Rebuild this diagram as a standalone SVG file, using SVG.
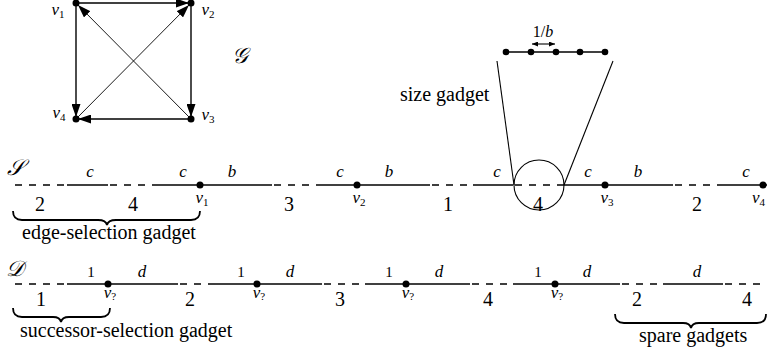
<svg xmlns="http://www.w3.org/2000/svg" width="767" height="349" viewBox="0 0 767 349">
<defs>
<marker id="ah" markerUnits="userSpaceOnUse" markerWidth="13" markerHeight="9" refX="13" refY="4.5" orient="auto"><path d="M0,0 L13,4.5 L0,9 z" fill="#000"/></marker>
<marker id="sh" markerUnits="userSpaceOnUse" markerWidth="6" markerHeight="5" refX="6" refY="2.5" orient="auto-start-reverse"><path d="M0,0 L6,2.5 L0,5 z" fill="#000"/></marker>
</defs>
<style>
text{font-family:'Liberation Serif','DejaVu Serif',serif;fill:#000}
.big{font-size:20px}
.num{font-size:20px;text-anchor:middle}
.mi{font-style:italic;font-size:17px;text-anchor:middle}
.vl{font-style:italic;font-size:17px;text-anchor:middle}
.sub{font-size:11px;font-style:normal}
.one{font-size:15px;text-anchor:middle}
.cal{font-style:italic;font-size:22px}
.sq{stroke:#000;stroke-width:1.4;fill:none}
.dg{stroke:#000;stroke-width:0.9;fill:none}
.so{stroke:#000;stroke-width:1.3;fill:none}
.da{stroke:#000;stroke-width:1.3;fill:none;stroke-dasharray:7 7}
.br{stroke:#000;stroke-width:1.8;fill:none}
.ln{stroke:#000;stroke-width:1.1;fill:none}
.dot{fill:#000}
</style>
<rect width="767" height="349" fill="#fff"/>

<!-- graph G -->
<g id="connectors">
<line class="sq" x1="76" y1="3" x2="189" y2="3" marker-end="url(#ah)"/>
<line class="sq" x1="76" y1="3" x2="76" y2="117" marker-end="url(#ah)"/>
<line class="sq" x1="191" y1="3" x2="191" y2="117" marker-end="url(#ah)"/>
<line class="sq" x1="191" y1="119" x2="78" y2="119" marker-end="url(#ah)"/>
<line class="dg" x1="191" y1="119" x2="78" y2="5" marker-end="url(#ah)"/>
<line class="dg" x1="76" y1="119" x2="189" y2="5" marker-end="url(#ah)"/>
</g>
<g id="v1"><circle class="dot" cx="76" cy="3" r="3.5"/><text class="vl" x="58" y="15">v<tspan class="sub" dy="3">1</tspan></text></g>
<g id="v2"><circle class="dot" cx="191" cy="3" r="3.5"/><text class="vl" x="208" y="15">v<tspan class="sub" dy="3">2</tspan></text></g>
<g id="v3"><circle class="dot" cx="191" cy="119" r="3.5"/><text class="vl" x="208" y="120">v<tspan class="sub" dy="3">3</tspan></text></g>
<g id="v4"><circle class="dot" cx="76" cy="119" r="3.5"/><text class="vl" x="59" y="118">v<tspan class="sub" dy="3">4</tspan></text></g>
<text class="cal" x="232" y="63">𝒢</text>

<!-- size gadget -->
<g id="size-gadget">
<line class="so" x1="506" y1="52" x2="605" y2="52"/>
<circle class="dot" cx="506" cy="52" r="3.3"/>
<circle class="dot" cx="531" cy="52" r="3.3"/>
<circle class="dot" cx="556" cy="52" r="3.3"/>
<circle class="dot" cx="580" cy="52" r="3.3"/>
<circle class="dot" cx="605" cy="52" r="3.3"/>
<line class="ln" x1="532" y1="44" x2="555" y2="44" marker-start="url(#sh)" marker-end="url(#sh)"/>
<text x="543" y="37" font-size="16" text-anchor="middle">1/<tspan font-style="italic">b</tspan></text>
<line class="ln" x1="497" y1="61" x2="514" y2="185"/>
<line class="ln" x1="613" y1="61" x2="564" y2="185"/>
<circle class="ln" cx="539" cy="185" r="25"/>
<text class="big" x="400" y="101">size gadget</text>
</g>

<!-- S line -->
<g id="S-line">
<text class="cal" x="7" y="175">𝒮</text>
<line class="da" x1="15" y1="185" x2="67" y2="185"/>
<line class="so" x1="67" y1="185" x2="108" y2="185"/>
<line class="da" x1="110" y1="185" x2="158" y2="185"/>
<line class="so" x1="158" y1="185" x2="272" y2="185"/>
<line class="da" x1="274" y1="185" x2="316" y2="185"/>
<line class="so" x1="316" y1="185" x2="430" y2="185"/>
<line class="da" x1="432" y1="185" x2="473" y2="185"/>
<line class="so" x1="473" y1="185" x2="513" y2="185"/>
<line class="da" x1="515" y1="185" x2="564" y2="185"/>
<line class="so" x1="564" y1="185" x2="673" y2="185"/>
<line class="da" x1="675" y1="185" x2="722" y2="185"/>
<line class="so" x1="722" y1="185" x2="767" y2="185"/>
<circle class="dot" cx="200" cy="185" r="3.5"/>
<circle class="dot" cx="357" cy="185" r="3.5"/>
<circle class="dot" cx="605" cy="185" r="3.5"/>
<circle class="dot" cx="763" cy="185" r="3.5"/>
<text class="mi" x="90" y="177">c</text>
<text class="mi" x="183" y="177">c</text>
<text class="mi" x="232" y="177">b</text>
<text class="mi" x="340" y="177">c</text>
<text class="mi" x="389" y="177">b</text>
<text class="mi" x="497" y="177">c</text>
<text class="mi" x="588" y="177">c</text>
<text class="mi" x="638" y="177">b</text>
<text class="mi" x="746" y="177">c</text>
<text class="vl" x="202" y="203">v<tspan class="sub" dy="3">1</tspan></text>
<text class="vl" x="359" y="203">v<tspan class="sub" dy="3">2</tspan></text>
<text class="vl" x="607" y="203">v<tspan class="sub" dy="3">3</tspan></text>
<text class="vl" x="765" y="203" text-anchor="end" style="text-anchor:end">v<tspan class="sub" dy="3">4</tspan></text>
<text class="num" x="40" y="211">2</text>
<text class="num" x="133" y="211">4</text>
<text class="num" x="289" y="211">3</text>
<text class="num" x="448" y="211">1</text>
<text class="num" x="538" y="211">4</text>
<text class="num" x="697" y="211">2</text>
</g>

<!-- D line -->
<g id="D-line">
<text class="cal" x="6" y="276">𝒟</text>
<line class="da" x1="15" y1="284" x2="67" y2="284"/>
<line class="so" x1="67" y1="284" x2="178" y2="284"/>
<line class="da" x1="180" y1="284" x2="215" y2="284"/>
<line class="so" x1="215" y1="284" x2="322" y2="284"/>
<line class="da" x1="324" y1="284" x2="365" y2="284"/>
<line class="so" x1="365" y1="284" x2="470" y2="284"/>
<line class="da" x1="472" y1="284" x2="513" y2="284"/>
<line class="so" x1="513" y1="284" x2="620" y2="284"/>
<line class="da" x1="622" y1="284" x2="663" y2="284"/>
<line class="so" x1="663" y1="284" x2="723" y2="284"/>
<line class="da" x1="725" y1="284" x2="767" y2="284"/>
<circle class="dot" cx="108" cy="284" r="3.5"/>
<circle class="dot" cx="257" cy="284" r="3.5"/>
<circle class="dot" cx="406" cy="284" r="3.5"/>
<circle class="dot" cx="555" cy="284" r="3.5"/>
<text class="one" x="91" y="277">1</text>
<text class="mi" x="142" y="277">d</text>
<text class="one" x="241" y="277">1</text>
<text class="mi" x="290" y="277">d</text>
<text class="one" x="389" y="277">1</text>
<text class="mi" x="439" y="277">d</text>
<text class="one" x="538" y="277">1</text>
<text class="mi" x="587" y="277">d</text>
<text class="mi" x="697" y="277">d</text>
<text class="vl" x="110" y="298">v<tspan class="sub" dy="2">?</tspan></text>
<text class="vl" x="259" y="298">v<tspan class="sub" dy="2">?</tspan></text>
<text class="vl" x="408" y="298">v<tspan class="sub" dy="2">?</tspan></text>
<text class="vl" x="557" y="298">v<tspan class="sub" dy="2">?</tspan></text>
<text class="num" x="41" y="306">1</text>
<text class="num" x="190" y="306">2</text>
<text class="num" x="340" y="306">3</text>
<text class="num" x="488" y="306">4</text>
<text class="num" x="637" y="306">2</text>
<text class="num" x="747" y="306">4</text>
</g>

<!-- braces -->
<g id="edge-selection-gadget">
<path class="br" d="M13,211 Q13,220 22,220 L98,220 Q106,220 107,225 Q108,220 116,220 L191,220 Q200,220 200,211"/>
<text class="big" x="22" y="239">edge-selection gadget</text>
</g>
<g id="successor-selection-gadget">
<path class="br" d="M13,308 Q13,317 22,317 L53,317 Q60,317 61,322 Q62,317 69,317 L101,317 Q110,317 110,308"/>
<text class="big" x="20" y="337">successor-selection gadget</text>
</g>
<g id="spare-gadgets">
<path class="br" d="M615,314 Q615,323 624,323 L683,323 Q690,323 691,328 Q692,323 699,323 L757,323 Q766,323 766,314"/>
<text class="big" x="639" y="342">spare gadgets</text>
</g>
</svg>
